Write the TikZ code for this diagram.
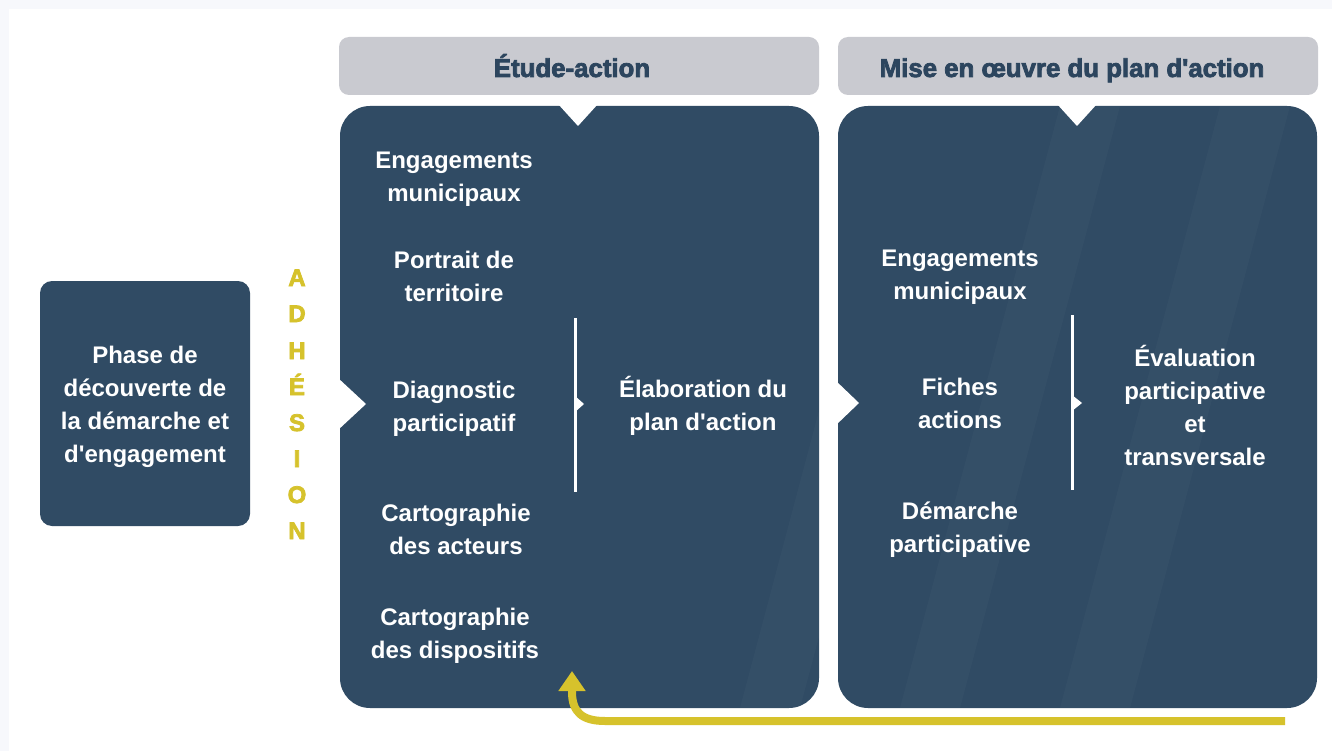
\documentclass[tikz,border=0pt]{standalone}
\usepackage{fontspec}
\setmainfont{Liberation Sans}
\newfontfamily\heavy{Liberation Sans}[BoldFeatures={FakeBold=3}]
\usetikzlibrary{arrows.meta}
\definecolor{navy}{HTML}{304B64}
\definecolor{hdr}{HTML}{C9CAD0}
\definecolor{hdrtxt}{HTML}{2C455E}
\definecolor{gold}{HTML}{D6C22C}
\definecolor{bgframe}{HTML}{F7F8FC}
\tikzset{
 panel/.style={fill=navy, rounded corners=30pt, minimum width=479pt, minimum height=602pt, inner sep=0pt},
 startbox/.style={fill=navy, rounded corners=12pt, minimum width=210pt, minimum height=245pt, inner sep=0pt},
 headbox/.style={fill=hdr, rounded corners=10pt, minimum width=480pt, minimum height=58pt, inner sep=0pt},
 headtext/.style={anchor=base, inner sep=0pt, text=hdrtxt, font=\heavy\bfseries\fontsize{25.8}{28}\selectfont},
 item/.style={text=white, align=center, font=\bfseries\fontsize{24}{33}\selectfont, inner sep=0pt},
 letter/.style={text=gold, anchor=base, font=\heavy\bfseries\fontsize{24}{26}\selectfont, inner sep=0pt},
 notch/.style={fill=white},
 divider/.style={draw=white, line width=3pt},
 tipmark/.style={fill=white},
 stripe/.style={fill=white, opacity=0.025},
 feedback/.style={draw=gold, line width=8pt, -{Triangle[width=26pt,length=20pt]}}
}
\begin{document}
\begin{tikzpicture}[x=1pt,y=-1pt]
\useasboundingbox (0,0) rectangle (1332,751);
\fill[bgframe] (0,0) rectangle (1332,751);
\fill[white] (9,9) rectangle (1332,751);

% start box
\node[startbox] (start) at (145,403.5) {};
\node[item] (startlbl) at (145,406.5) {Phase de\\découverte de\\la démarche et\\d\textquotesingle engagement};

% headers
\node[headbox] (h1) at (579,66) {};
\node[headbox] (h2) at (1078,66) {};
\node[headtext] (t1) at (572,77) {Étude-action};
\node[headtext] (t2) at (1072,77) {Mise en œuvre du plan d\textquotesingle action};

% panels
\node[panel] (p1) at (579.5,407) {};
\node[panel] (p2) at (1077.5,407) {};

% faint stripes
\begin{scope}
\clip[rounded corners=30pt] (p1.south west) rectangle (p1.north east);
\fill[stripe] (740,708) -- (800,708) -- (960,106) -- (900,106) -- cycle;
\end{scope}
\begin{scope}
\clip[rounded corners=30pt] (p2.south west) rectangle (p2.north east);
\fill[stripe] (900,708) -- (960,708) -- (1120,106) -- (1060,106) -- cycle;
\fill[stripe] (1060,708) -- (1130,708) -- (1290,106) -- (1220,106) -- cycle;
\end{scope}

% notches
\fill[notch] (558,104) -- (598,104) -- (578,126) -- cycle;
\fill[notch] (1057,104) -- (1097,104) -- (1077,126) -- cycle;
\fill[notch] (338,378) -- (366,404) -- (338,430) -- cycle;
\fill[notch] (835,380) -- (859,403) -- (835,426) -- cycle;

% dividers
\coordinate (d1t) at (575,318);
\coordinate (d1b) at (575,492);
\draw[divider] (d1t) -- (d1b);
\fill[tipmark] (575,396) -- (584,404) -- (575,412) -- cycle;
\coordinate (d2t) at (1072,315);
\coordinate (d2b) at (1072,490);
\draw[divider] (d2t) -- (d2b);
\fill[tipmark] (1072,395) -- (1082,403) -- (1072,411) -- cycle;

% panel 1 items
\node[item] (e1) at (454,179.5) {Engagements\\municipaux};
\node[item] (e2) at (454,276.5) {Portrait de\\territoire};
\node[item] (e3) at (454,408.5) {Diagnostic\\participatif};
\node[item] (e4) at (456,529.5) {Cartographie\\des acteurs};
\node[item] (e5) at (455,636) {Cartographie\\des dispositifs};
\node[item] (e6) at (703,406) {Élaboration du\\plan d\textquotesingle action};

% panel 2 items
\node[item] (m1) at (960,277) {Engagements\\municipaux};
\node[item] (m2) at (960,403) {Fiches\\actions};
\node[item] (m3) at (960,530) {Démarche\\participative};
\node[item] (m4) at (1195,405) {Évaluation\\participative\\et\\transversale};

% ADHESION
\node[letter] (la) at (297,286) {A};
\node[letter] (ld) at (297,322) {D};
\node[letter] (lh) at (297,359) {H};
\node[letter] (le) at (297,395) {É};
\node[letter] (ls) at (297,431) {S};
\node[letter] (li) at (297,467) {I};
\node[letter] (lo) at (297,503) {O};
\node[letter] (ln) at (297,539) {N};

% feedback arrow
\coordinate (fbstart) at (1285,721);
\coordinate (fbend) at (572,671);
\draw[feedback] (fbstart) -- (605,721) .. controls (582,721) and (572,712) .. (572,692) -- (fbend);
\end{tikzpicture}
\end{document}
